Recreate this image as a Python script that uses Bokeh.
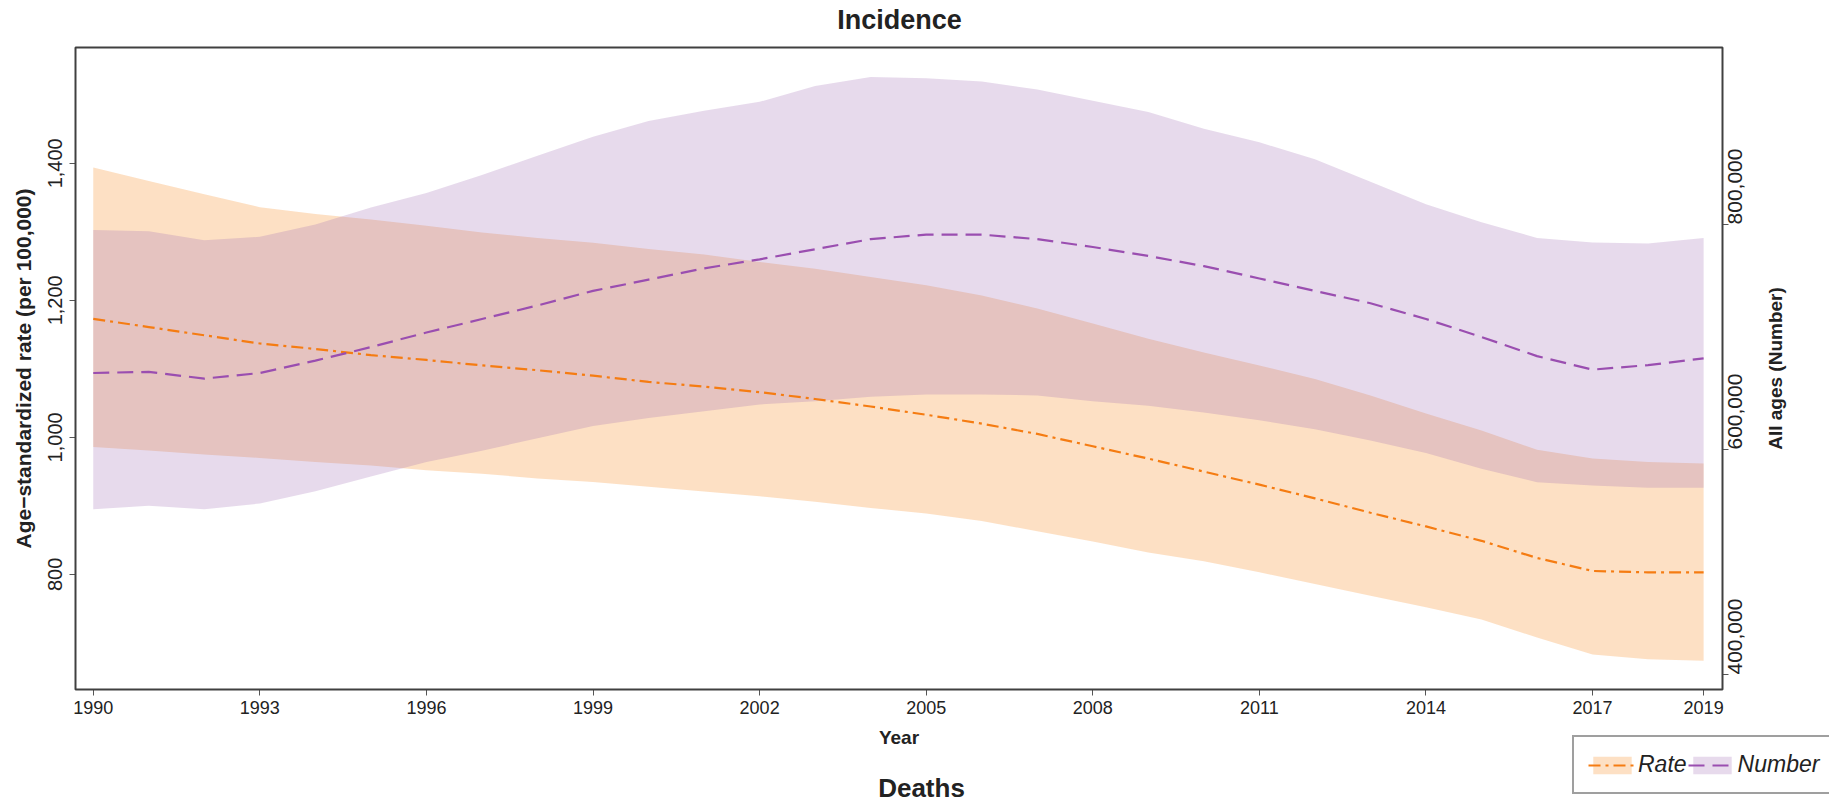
import math

from bokeh.embed import file_html
from bokeh.models import (BoxAnnotation, FixedTicker, Label, Legend, LegendItem,
                          LinearAxis, NumeralTickFormatter, Range1d)
from bokeh.plotting import figure
from bokeh.resources import INLINE

# ---- data -------------------------------------------------------------
years = list(range(1990, 2020))

# age-standardized rate (per 100,000) with uncertainty interval
rate_val = [1173, 1161, 1149, 1137, 1129, 1120, 1113, 1105, 1098, 1090,
            1081, 1074, 1066, 1056, 1045, 1033, 1020, 1005, 987, 969,
            950, 931, 911, 890, 870, 849, 824, 805, 803, 803]
rate_upper = [1394, 1374, 1355, 1336, 1326, 1318, 1309, 1299, 1291, 1284,
              1275, 1267, 1256, 1246, 1234, 1222, 1207, 1188, 1166, 1144,
              1124, 1105, 1085, 1061, 1035, 1010, 982, 969, 964, 962]
rate_lower = [986, 981, 975, 970, 964, 959, 952, 947, 940, 935,
              928, 921, 914, 906, 897, 889, 878, 863, 848, 832,
              819, 803, 786, 769, 752, 734, 708, 683, 676, 674]

# all-ages number with uncertainty interval
number_val = [668000, 669000, 663000, 668000, 679000, 691000, 704000, 716000, 728000, 741000,
              751000, 761000, 769000, 778000, 787000, 791000, 791000, 787000, 780000, 772000,
              763000, 752000, 741000, 730000, 716000, 700000, 683000, 671000, 675000, 681000]
number_upper = [795000, 794000, 786000, 789000, 800000, 815000, 828000, 844000, 861000, 878000,
                892000, 901000, 909000, 923000, 931000, 930000, 927000, 920000, 910000, 900000,
                885000, 873000, 858000, 838000, 818000, 802000, 788000, 784000, 783000, 788000]
number_lower = [547000, 550000, 547000, 552000, 563000, 576000, 589000, 599000, 610000, 621000,
                628000, 634000, 640000, 643000, 647000, 649000, 649000, 648000, 643000, 639000,
                633000, 626000, 618000, 608000, 597000, 583000, 571000, 568000, 566000, 566000]

year_ticks = [1990, 1993, 1996, 1999, 2002, 2005, 2008, 2011, 2014, 2017, 2019]
rate_ticks = [800, 1000, 1200, 1400]
number_ticks = [400000, 600000, 800000]

# ---- geometry ---------------------------------------------------------
W, H = 1829, 804
# plotting box inside the canvas (pixels from top-left)
BOX_L, BOX_T, BOX_R, BOX_B = 75, 47, 1722, 689
# data extent of that box
X0, X1 = 1989.68, 2019.34
Y0, Y1 = 632, 1569
N0, N1 = 386700, 957300

# the frame fills the whole canvas; ranges are widened so the box lands
# where it should and the surrounding margin stays drawable
xs = (X1 - X0) / (BOX_R - BOX_L)
ys = (Y1 - Y0) / (BOX_B - BOX_T)
ns = (N1 - N0) / (BOX_B - BOX_T)
x_range = Range1d(X0 - BOX_L * xs, X1 + (W - BOX_R) * xs)
y_range = Range1d(Y0 - (H - BOX_B) * ys, Y1 + BOX_T * ys)
n_range = Range1d(N0 - (H - BOX_B) * ns, N1 + BOX_T * ns)


def to_data(px, py):
    """Canvas pixel -> data coordinates on the primary ranges."""
    return x_range.start + px * xs, y_range.end - py * ys


FONT = "Liberation Sans"
INK = "#222222"
FRAME = "#404040"

ORANGE = "#F78313"
PURPLE = "#9F6BB3"
ORANGE_LINE = "#F57C12"
PURPLE_LINE = "#9A4EB0"

p = figure(width=W, height=H, x_range=x_range, y_range=y_range,
           x_axis_location=None, y_axis_location=None,
           output_backend="svg", toolbar_location=None,
           min_border=0, min_border_left=0, min_border_right=0,
           min_border_top=0, min_border_bottom=0,
           background_fill_color="white", border_fill_color="white")
p.extra_y_ranges = {"num": n_range}
p.xgrid.visible = False
p.ygrid.visible = False
p.outline_line_color = None


def style_axis(ax, size, standoff):
    ax.axis_line_color = None
    ax.major_tick_line_color = "#555555"
    ax.major_tick_line_width = 1
    ax.major_tick_in = 0
    ax.major_tick_out = 6
    ax.minor_tick_line_color = None
    ax.major_label_text_font = FONT
    ax.major_label_text_font_size = size
    ax.major_label_text_color = INK
    ax.major_label_standoff = standoff


# bands
rate_band = p.varea(x=years, y1=rate_lower, y2=rate_upper,
                    fill_color=ORANGE, fill_alpha=0.25)
num_band = p.varea(x=years, y1=number_lower, y2=number_upper,
                   fill_color=PURPLE, fill_alpha=0.25, y_range_name="num")

# central estimates
rate_line = p.line(years, rate_val, line_color=ORANGE_LINE, line_width=2.2,
                   line_dash="12 5 3 5")
num_line = p.line(years, number_val, line_color=PURPLE_LINE, line_width=2.2,
                  line_dash="16 8", y_range_name="num")

# box around the plotting region
p.add_layout(BoxAnnotation(left=X0, right=X1, bottom=Y0, top=Y1,
                           fill_color=None, fill_alpha=0,
                           line_color=FRAME, line_alpha=1, line_width=2))

# axes pinned to the edges of the box
xa = LinearAxis(fixed_location=Y0, ticker=FixedTicker(ticks=year_ticks))
style_axis(xa, "18px", 5)
p.add_layout(xa, "below")

ya = LinearAxis(fixed_location=X0, ticker=FixedTicker(ticks=rate_ticks),
                formatter=NumeralTickFormatter(format="0,0"))
ya.major_label_orientation = "vertical"
style_axis(ya, "20px", 7)
p.add_layout(ya, "left")

ra = LinearAxis(fixed_location=X1, y_range_name="num",
                ticker=FixedTicker(ticks=number_ticks),
                formatter=NumeralTickFormatter(format="0,0"))
ra.major_label_orientation = math.pi / 2
style_axis(ra, "21px", 7)
p.add_layout(ra, "right")


def add_text(px, py, text, size, style="bold", angle=0.0):
    x, y = to_data(px, py)
    p.add_layout(Label(x=x, y=y, text=text, angle=angle, angle_units="rad",
                       text_align="center", text_baseline="middle",
                       text_font=FONT, text_font_size=size,
                       text_font_style=style, text_color=INK))


# axis titles
add_text((BOX_L + BOX_R) / 2, 737, "Year", "19px")
add_text(23, (BOX_T + BOX_B) / 2, "Age\u2212standardized rate (per 100,000)", "21px",
         angle=math.pi / 2)
add_text(1775, (BOX_T + BOX_B) / 2, "All ages (Number)", "19px", angle=math.pi / 2)

# panel headings
add_text(899, 19, "Incidence", "27px")
add_text(921, 787, "Deaths", "26px")

# legend
legend = Legend(items=[LegendItem(label="Rate", renderers=[rate_band, rate_line]),
                       LegendItem(label="Number", renderers=[num_band, num_line])],
                orientation="horizontal", location=(1572, H - 794))
legend.label_text_font = FONT
legend.label_text_font_size = "23px"
legend.label_text_font_style = "italic"
legend.label_text_color = INK
legend.glyph_width = 48
legend.glyph_height = 22
legend.label_standoff = 2
legend.spacing = 1
legend.padding = 14
legend.margin = 0
legend.border_line_color = FRAME
legend.border_line_width = 2
legend.background_fill_color = "white"
legend.background_fill_alpha = 1
p.add_layout(legend)

open("out.html", "w").write(file_html(p, INLINE))
